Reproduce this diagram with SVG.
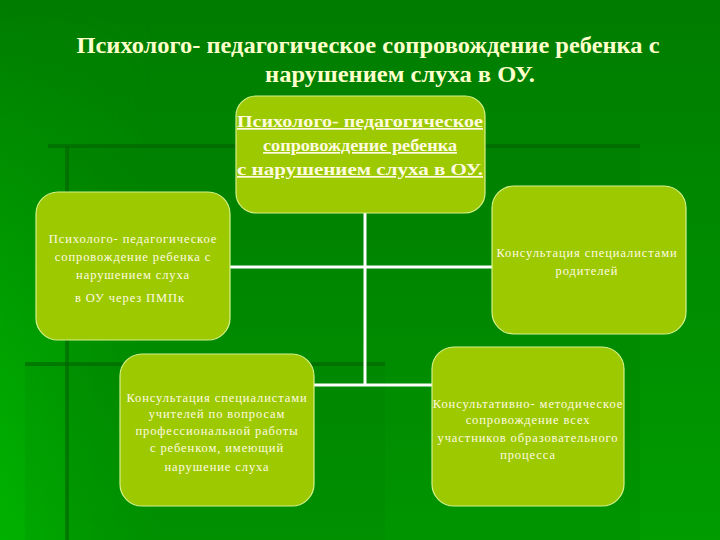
<svg xmlns="http://www.w3.org/2000/svg" width="720" height="540" viewBox="0 0 720 540">
<defs>
<linearGradient id="bg" x1="0" y1="0" x2="0" y2="1">
<stop offset="0" stop-color="#007c00"/>
<stop offset="1" stop-color="#009c00"/>
</linearGradient>
<linearGradient id="lf" x1="0" y1="0" x2="1" y2="0">
<stop offset="0" stop-color="#00c000" stop-opacity="0.6"/>
<stop offset="1" stop-color="#00c000" stop-opacity="0"/>
</linearGradient>
<linearGradient id="lfv" x1="0" y1="0" x2="0" y2="1">
<stop offset="0" stop-color="#fff" stop-opacity="0"/>
<stop offset="1" stop-color="#fff" stop-opacity="1"/>
</linearGradient>
<mask id="m"><rect width="720" height="540" fill="url(#lfv)"/></mask>
<style>
.box{fill:#9cc900;stroke:#d6f28a;stroke-width:1.2}
.t{font-family:'Liberation Serif','DejaVu Serif',serif;fill:#fffbe0;text-anchor:middle}
.s{font-size:12.5px;letter-spacing:0.9px}
.h{font-size:17px;font-weight:bold;text-decoration:underline}
.ttl{font-size:24px;font-weight:bold;fill:#ffffcc}
.c{stroke:#ffffff;stroke-width:3;fill:none}
.dk{stroke:#006400;stroke-width:4;opacity:0.6}
</style>
</defs>
<rect width="720" height="540" fill="url(#bg)"/>
<rect width="160" height="540" fill="url(#lf)" mask="url(#m)"/>
<rect x="67" y="146" width="573" height="394" fill="#005a00" opacity="0.1"/>
<rect x="25" y="364" width="360" height="176" fill="#005a00" opacity="0.08"/>
<line class="dk" x1="48" y1="146" x2="640" y2="146"/>
<line class="dk" x1="67" y1="146" x2="67" y2="540"/>
<line class="dk" x1="25" y1="364" x2="385" y2="364"/>
<g id="title">
<text class="t ttl" x="368" y="53" textLength="583" lengthAdjust="spacingAndGlyphs">Психолого- педагогическое сопровождение ребенка с</text>
<text class="t ttl" x="400" y="82" textLength="270" lengthAdjust="spacingAndGlyphs">нарушением слуха в ОУ.</text>
</g>
<g id="connectors">
<line class="c" x1="365" y1="213" x2="365" y2="385"/>
<line class="c" x1="230" y1="267" x2="492" y2="267"/>
<line class="c" x1="314" y1="385" x2="432" y2="385"/>
</g>
<g id="top">
<rect class="box" x="236" y="96" width="249" height="117" rx="20"/>
<text class="t h" x="360" y="127" textLength="246" lengthAdjust="spacingAndGlyphs">Психолого- педагогическое</text>
<text class="t h" x="360" y="151" textLength="194" lengthAdjust="spacingAndGlyphs">сопровождение ребенка</text>
<text class="t h" x="360" y="175" textLength="246" lengthAdjust="spacingAndGlyphs"> с нарушением слуха в ОУ.</text>
</g>
<g id="left">
<rect class="box" x="36" y="192" width="194" height="148" rx="22"/>
<text class="t s" x="133" y="243">Психолого- педагогическое</text>
<text class="t s" x="133" y="261">сопровождение ребенка с</text>
<text class="t s" x="133" y="279">нарушением слуха</text>
<text class="t s" x="130" y="302">в ОУ через ПМПк</text>
</g>
<g id="right">
<rect class="box" x="492" y="186" width="194" height="148" rx="22"/>
<text class="t s" x="587" y="257">Консультация специалистами</text>
<text class="t s" x="587" y="275">родителей</text>
</g>
<g id="bottomleft">
<rect class="box" x="120" y="354" width="194" height="152" rx="22"/>
<text class="t s" x="217" y="402">Консультация специалистами</text>
<text class="t s" x="217" y="418">учителей по вопросам</text>
<text class="t s" x="217" y="435">профессиональной работы</text>
<text class="t s" x="217" y="452">с ребенком, имеющий</text>
<text class="t s" x="217" y="471">нарушение слуха</text>
</g>
<g id="bottomright">
<rect class="box" x="432" y="347" width="192" height="159" rx="22"/>
<text class="t s" x="528" y="408">Консультативно- методическое</text>
<text class="t s" x="528" y="424">сопровождение всех</text>
<text class="t s" x="528" y="442">участников образовательного</text>
<text class="t s" x="528" y="459">процесса</text>
</g>
</svg>
